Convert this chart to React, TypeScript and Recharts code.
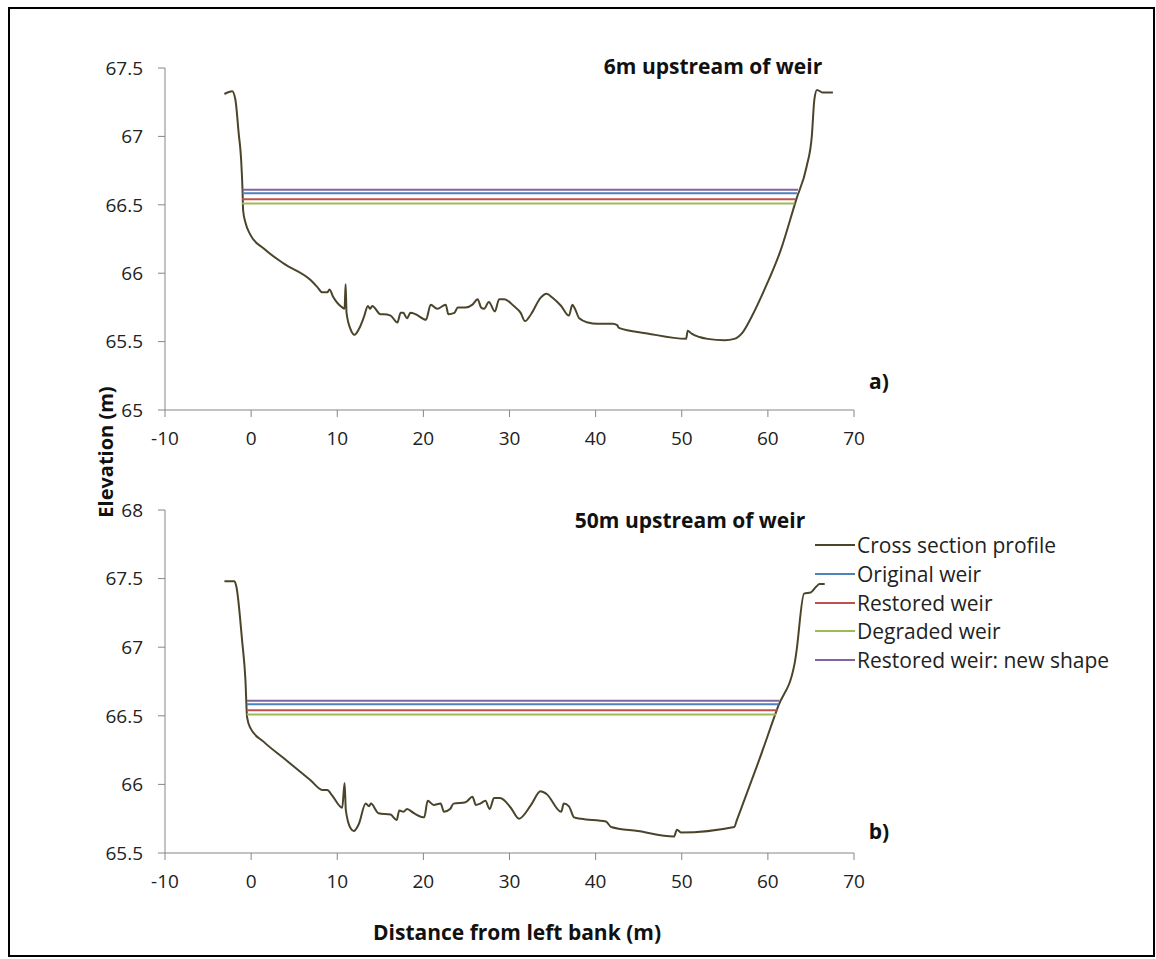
import React from "react";
import { LineChart, Line, XAxis, YAxis } from "recharts";

// distance from left bank (m) / elevation (m), 6 m upstream of the weir
const topDistance = [
  -3.1, -2.2, -1.83, -1.44, -1.16, -1.0, -0.93, -0.66, -0.08, 1.47, 3.8, 6.9,
  7.67, 8.26, 8.84, 9.1, 9.5, 10.58, 10.85, 10.97, 11.08, 11.55, 12.0, 12.5,
  13.1, 13.56, 13.8, 14.06, 15.03, 15.4, 16.2, 16.98, 17.36, 17.67, 18.1, 18.5,
  19.1, 20.3, 20.85, 21.6, 22.6, 22.9, 23.6, 24.0, 24.9, 25.7, 26.3, 26.7,
  27.05, 27.6, 28.3, 28.8, 29.4, 30.5, 31.3, 31.8, 32.5, 33.6, 34.3, 35.0,
  36.0, 36.9, 37.3, 37.6, 38.1, 39.1, 40.2, 42.0, 42.5, 42.7, 46.0, 50.5,
  50.7, 51.1, 53.0, 55.0, 56.1, 57.1, 58.1, 59.6, 61.5, 63.3, 64.5, 65.1,
  65.4, 65.7, 66.4, 67.55,
];
const topElevation = [
  67.31, 67.33, 67.27, 67.02, 66.83, 66.61, 66.46, 66.37, 66.28, 66.18, 66.07,
  65.95, 65.9, 65.86, 65.86, 65.88, 65.83, 65.75, 65.74, 65.92, 65.71, 65.59,
  65.55, 65.59, 65.68, 65.76, 65.74, 65.76, 65.7, 65.7, 65.69, 65.64, 65.71,
  65.71, 65.67, 65.71, 65.7, 65.66, 65.77, 65.74, 65.77, 65.7, 65.71, 65.75,
  65.75, 65.77, 65.81, 65.75, 65.74, 65.79, 65.72, 65.81, 65.81, 65.76, 65.71,
  65.65, 65.7, 65.82, 65.85, 65.82, 65.76, 65.69, 65.77, 65.74, 65.67, 65.64,
  65.63, 65.63, 65.62, 65.6, 65.56, 65.52, 65.58, 65.56, 65.52, 65.51, 65.52,
  65.57, 65.68, 65.88, 66.17, 66.54, 66.78, 67.0, 67.27, 67.34, 67.32, 67.32,
];

// 50 m upstream of the weir
const bottomDistance = [
  -3.1, -1.94, -1.71, -1.05, -0.66, -0.47, -0.08, 1.47, 3.8, 6.9, 8.26, 8.84,
  9.4, 10.58, 10.85, 11.0, 11.55, 11.93, 12.5, 13.3, 13.7, 13.9, 14.8, 16.2,
  16.9, 17.2, 17.7, 18.1, 18.9, 20.1, 20.5, 21.2, 22.0, 22.4, 23.1, 23.5, 24.9,
  25.7, 26.1, 26.6, 27.2, 27.7, 28.2, 28.9, 30.15, 31.1, 32.5, 33.6, 34.3,
  36.0, 36.3, 36.9, 37.5, 38.3, 41.2, 41.8, 44.9, 49.1, 49.45, 49.9, 56.1,
  56.4, 59.0, 61.2, 63.1, 63.3, 64.2, 65.0, 65.6, 66.0, 66.6,
];
const bottomElevation = [
  67.48, 67.48, 67.44, 67.05, 66.76, 66.49, 66.41, 66.31, 66.19, 66.03, 65.96,
  65.96, 65.92, 65.83, 66.01, 65.81, 65.68, 65.66, 65.71, 65.86, 65.84, 65.86,
  65.79, 65.78, 65.74, 65.81, 65.8, 65.82, 65.79, 65.76, 65.88, 65.85, 65.86,
  65.8, 65.82, 65.86, 65.87, 65.91, 65.85, 65.86, 65.88, 65.82, 65.9, 65.9,
  65.83, 65.75, 65.85, 65.95, 65.93, 65.8, 65.86, 65.84, 65.76, 65.75, 65.73,
  65.69, 65.66, 65.62, 65.67, 65.65, 65.69, 65.74, 66.18, 66.57, 66.88, 66.96,
  67.39, 67.4, 67.44, 67.46, 67.46,
];

// weir water levels: [original, restored, degraded, restored new shape]
const weirNames = ["Original weir", "Restored weir", "Degraded weir", "Restored weir: new shape"];
const weirColors = ["#4F81BD", "#C0504D", "#9BBB59", "#8064A2"];
const weirLevels = [66.585, 66.54, 66.51, 66.61];
const topWeirStart = [-1.0, -1.05, -1.05, -1.0];
const topWeirEnd = [63.4, 63.25, 63.1, 63.5];
const bottomWeirStart = [-0.5, -0.5, -0.5, -0.5];
const bottomWeirEnd = [61.25, 61.1, 60.97, 61.35];

const xTicks = [-10, 0, 10, 20, 30, 40, 50, 60, 70];
const topYTicks = [65, 65.5, 66, 66.5, 67, 67.5];
const bottomYTicks = [65.5, 66, 66.5, 67, 67.5, 68];

const PROFILE = "#4A452A";
const AXIS = "#868686";
const FONT = "'Open Sans', sans-serif";

function CrossSection({
  distance,
  elevation,
  starts,
  ends,
  yTicks,
  top,
  height,
  marginTop,
  marginBottom,
}: {
  distance: number[];
  elevation: number[];
  starts: number[];
  ends: number[];
  yTicks: number[];
  top: number;
  height: number;
  marginTop: number;
  marginBottom: number;
}) {
  const profile = distance.map((x, i) => ({ x, y: elevation[i] }));
  const tick = { fill: "#222", fontSize: 19, fontFamily: FONT };

  return (
    <div style={{ position: "absolute", left: 0, top }}>
      <LineChart
        width={1156}
        height={height}
        margin={{ top: marginTop, right: 302, bottom: marginBottom, left: 105 }}
      >
        <XAxis
          type="number"
          dataKey="x"
          domain={[-10, 70]}
          ticks={xTicks}
          allowDataOverflow
          stroke={AXIS}
          tickSize={7}
          tickMargin={15}
          height={40}
          tick={tick}
        />
        <YAxis
          type="number"
          dataKey="y"
          domain={[yTicks[0], yTicks[yTicks.length - 1]]}
          ticks={yTicks}
          allowDataOverflow
          stroke={AXIS}
          tickSize={7}
          tickMargin={15}
          width={60}
          tick={tick}
        />
        <Line
          data={profile}
          dataKey="y"
          type="monotone"
          stroke={PROFILE}
          strokeWidth={2}
          dot={false}
          isAnimationActive={false}
        />
        {weirNames.map((name, i) => (
          <Line
            key={name}
            name={name}
            data={[
              { x: starts[i], y: weirLevels[i] },
              { x: ends[i], y: weirLevels[i] },
            ]}
            dataKey="y"
            type="linear"
            stroke={weirColors[i]}
            strokeWidth={2}
            dot={false}
            isAnimationActive={false}
          />
        ))}
      </LineChart>
    </div>
  );
}

function Label({ x, y, text, size = 21, rotate = false }: { x: number; y: number; text: string; size?: number; rotate?: boolean }) {
  return (
    <div
      style={{
        position: "absolute",
        left: x,
        top: y,
        transform: `translate(-50%, -50%)${rotate ? " rotate(-90deg)" : ""}`,
        fontFamily: FONT,
        fontWeight: 700,
        fontSize: size,
        color: "#111",
        whiteSpace: "nowrap",
      }}
    >
      {text}
    </div>
  );
}

export default function App() {
  const legendNames = ["Cross section profile", ...weirNames];
  const legendColors = [PROFILE, ...weirColors];
  return (
    <div style={{ position: "absolute", left: 0, top: 0, width: 1156, height: 959, background: "#fff" }}>
      <div
        style={{
          position: "absolute",
          left: 8,
          top: 7,
          width: 1143,
          height: 946,
          border: "2px solid #000",
        }}
      />
      <CrossSection
        distance={topDistance}
        elevation={topElevation}
        starts={topWeirStart}
        ends={topWeirEnd}
        yTicks={topYTicks}
        top={0}
        height={460}
        marginTop={68}
        marginBottom={10}
      />
      <CrossSection
        distance={bottomDistance}
        elevation={bottomElevation}
        starts={bottomWeirStart}
        ends={bottomWeirEnd}
        yTicks={bottomYTicks}
        top={460}
        height={440}
        marginTop={50}
        marginBottom={7}
      />
      <Label x={713} y={66} text="6m upstream of weir" />
      <Label x={690} y={520} text="50m upstream of weir" />
      <Label x={879} y={381} text="a)" />
      <Label x={879} y={831} text="b)" />
      <Label x={517} y={932} text="Distance from left bank (m)" />
      <Label x={105} y={452} size={20} text="Elevation (m)" rotate />
      <div style={{ position: "absolute", left: 815, top: 531 }}>
        {legendNames.map((name, i) => (
          <div key={name} style={{ display: "flex", alignItems: "center", height: 28.7 }}>
            <div style={{ width: 40, height: 2, background: legendColors[i], marginRight: 2 }} />
            <span style={{ fontFamily: FONT, fontSize: 21, color: "#222", lineHeight: "28px" }}>{name}</span>
          </div>
        ))}
      </div>
    </div>
  );
}
